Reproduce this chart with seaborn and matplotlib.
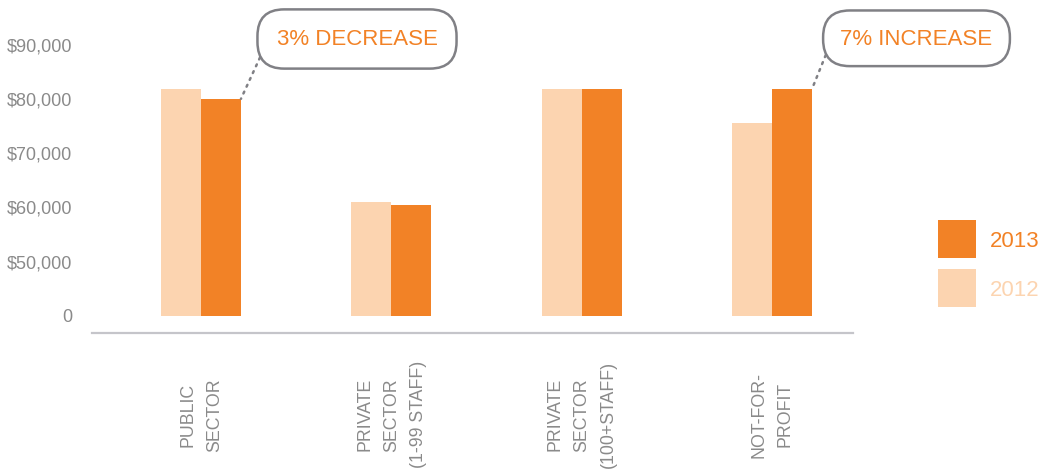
import matplotlib
matplotlib.use("Agg")
import matplotlib.pyplot as plt
from matplotlib.patches import Patch
import seaborn as sns
import pandas as pd

# ---- data ----
categories = ["PUBLIC\nSECTOR", "PRIVATE\nSECTOR\n(1-99 STAFF)",
              "PRIVATE\nSECTOR\n(100+STAFF)", "NOT-FOR-\nPROFIT"]
salary_2012 = [81700, 60900, 81700, 75400]
salary_2013 = [79900, 60300, 81700, 81700]
years = ["2012", "2013"]
ytick_values = [40000, 50000, 60000, 70000, 80000, 90000]
ytick_labels = ["0", "$50,000", "$60,000", "$70,000", "$80,000", "$90,000"]
callout_index = [0, 3]
callout_text = ["3% DECREASE", "7% INCREASE"]

df = pd.DataFrame({
    "category": categories * 2,
    "year": [years[0]] * len(categories) + [years[1]] * len(categories),
    "salary": salary_2012 + salary_2013,
})

# ---- style ----
sns.set_theme(style="white")
plt.rcParams["font.family"] = ["Liberation Sans", "DejaVu Sans"]

ORANGE = "#F28226"
PEACH = "#FCD4B0"
GREY_TXT = "#8A8A8A"
GREY_BOX = "#808085"
palette = {"2012": PEACH, "2013": ORANGE}

W, H = 1040, 477
fig = plt.figure(figsize=(W / 100, H / 100), dpi=100)
fig.patch.set_facecolor("white")
ax = fig.add_axes([92 / W, 1 - 317.3 / H, (853 - 92) / W, (317.3 - 10) / H])

BAR_W = 0.42
sns.barplot(data=df, x="category", y="salary", hue="year", order=categories,
            hue_order=years, palette=palette, width=BAR_W, gap=0,
            saturation=1, linewidth=0, legend=False, ax=ax)

ax.set_ylim(39700, 96500)
ax.set_xlim(-0.5727, 3.4256)
ax.set_xlabel("")
ax.set_ylabel("")

ax.set_yticks(ytick_values, ytick_labels)
ax.set_xticks(range(len(categories)), categories)
ax.tick_params(axis="y", length=0, pad=14.4, labelsize=13, labelcolor=GREY_TXT)
ax.tick_params(axis="x", length=0, pad=58, labelsize=12.8, labelcolor=GREY_TXT)

for s in ["left", "top", "right"]:
    ax.spines[s].set_visible(False)
ax.spines["bottom"].set_position(("outward", 12.2))
ax.spines["bottom"].set_color("#C5C5CA")
ax.spines["bottom"].set_linewidth(1.6)
ax.grid(False)

# ---- callouts ----
box_centers = [(357, H - 40), (916.5, H - 39.3)]
box_pads = [0.86, 0.78]
for idx, txt, c, p in zip(callout_index, callout_text, box_centers, box_pads):
    ax.annotate(
        txt, xy=(idx + BAR_W / 2, salary_2013[idx]), xycoords="data",
        xytext=c, textcoords="figure pixels", ha="center", va="center",
        fontsize=16, color=ORANGE,
        bbox=dict(boxstyle=f"round,pad={p},rounding_size=1.2", fc="white",
                  ec=GREY_BOX, lw=1.8),
        arrowprops=dict(arrowstyle="-", linestyle=(0, (0.8, 2.2)),
                        color=GREY_BOX, lw=1.8, relpos=(-0.08, 0.0),
                        shrinkA=0, shrinkB=0),
    )

# ---- legend ----
handles = [Patch(facecolor=palette[y], edgecolor="none") for y in years[::-1]]
leg = ax.legend(handles, years[::-1], loc="upper left",
                bbox_to_anchor=(937.7 / W, 1 - 221 / H),
                bbox_transform=fig.transFigure, frameon=False, fontsize=16,
                handlelength=1.71, handleheight=2.258, handletextpad=0.66,
                labelspacing=0.5, borderpad=0, borderaxespad=0)
for t, y in zip(leg.get_texts(), years[::-1]):
    t.set_color(palette[y])

# rotated, centred category labels (set after a draw so nothing resets them)
fig.canvas.draw()
for lab in ax.get_xticklabels():
    lab.set(rotation=90, va="center", ha="center", multialignment="center",
            linespacing=1.75)

fig.savefig("out.png", dpi=100, facecolor="white")
